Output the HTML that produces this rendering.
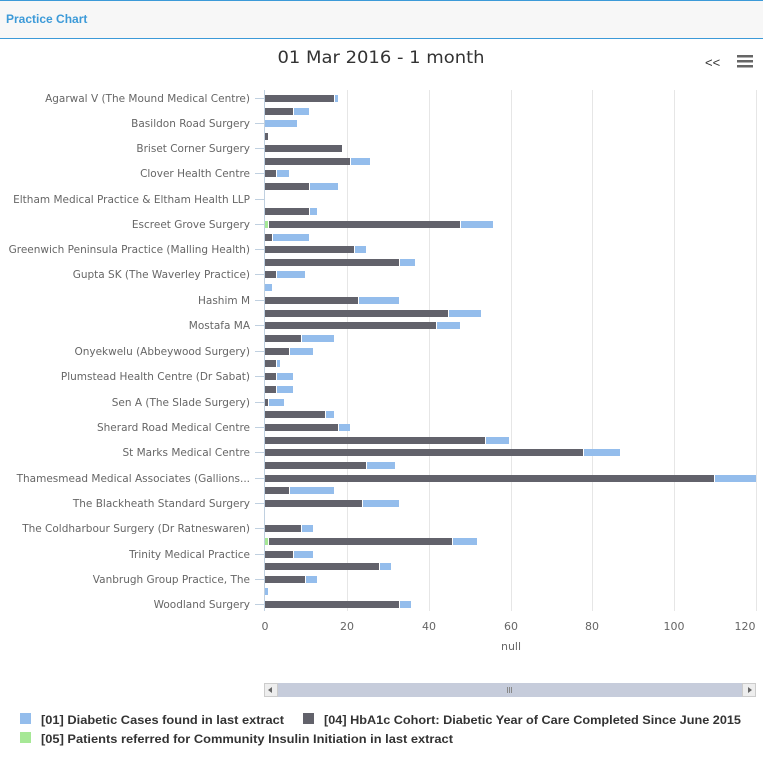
<!DOCTYPE html>
<html><head><meta charset="utf-8"><style>
body{margin:0;background:#fff;width:763px;height:771px;overflow:hidden}
svg{display:block;font-family:"Liberation Sans",sans-serif}
</style></head><body>
<svg width="763" height="771" xmlns="http://www.w3.org/2000/svg">
<rect x="0" y="0" width="763" height="38" fill="#f7f7f7"/>
<line x1="0" y1="0.5" x2="763" y2="0.5" stroke="#3c9ad8"/>
<line x1="0" y1="38.5" x2="763" y2="38.5" stroke="#3c9ad8"/>
<text x="6" y="23" font-size="12" font-weight="bold" fill="#3c9ad8">Practice Chart</text>
<text x="381" y="63" font-size="17" fill="#333" text-anchor="middle" font-family="DejaVu Sans, sans-serif" textLength="207" lengthAdjust="spacingAndGlyphs">01 Mar 2016 - 1 month</text>
<text x="705" y="67" font-size="13" fill="#333">&lt;&lt;</text>
<rect x="737" y="55" width="16" height="2.5" fill="#666"/><rect x="737" y="60" width="16" height="2.5" fill="#666"/><rect x="737" y="65" width="16" height="2.5" fill="#666"/>
<g stroke="#e6e6e6">
<line x1="347.5" y1="90" x2="347.5" y2="611"/><line x1="429.5" y1="90" x2="429.5" y2="611"/><line x1="511.5" y1="90" x2="511.5" y2="611"/><line x1="592.5" y1="90" x2="592.5" y2="611"/><line x1="674.5" y1="90" x2="674.5" y2="611"/><line x1="756.5" y1="90" x2="756.5" y2="611"/>
</g>
<line x1="264.5" y1="90" x2="264.5" y2="611" stroke="#c0d0e0"/>
<g stroke="#c0d0e0">
<line x1="255" x2="264" y1="98.5" y2="98.5"/><line x1="255" x2="264" y1="123.5" y2="123.5"/><line x1="255" x2="264" y1="148.5" y2="148.5"/><line x1="255" x2="264" y1="173.5" y2="173.5"/><line x1="255" x2="264" y1="199.5" y2="199.5"/><line x1="255" x2="264" y1="224.5" y2="224.5"/><line x1="255" x2="264" y1="249.5" y2="249.5"/><line x1="255" x2="264" y1="274.5" y2="274.5"/><line x1="255" x2="264" y1="300.5" y2="300.5"/><line x1="255" x2="264" y1="325.5" y2="325.5"/><line x1="255" x2="264" y1="351.5" y2="351.5"/><line x1="255" x2="264" y1="376.5" y2="376.5"/><line x1="255" x2="264" y1="402.5" y2="402.5"/><line x1="255" x2="264" y1="427.5" y2="427.5"/><line x1="255" x2="264" y1="452.5" y2="452.5"/><line x1="255" x2="264" y1="478.5" y2="478.5"/><line x1="255" x2="264" y1="503.5" y2="503.5"/><line x1="255" x2="264" y1="528.5" y2="528.5"/><line x1="255" x2="264" y1="554.5" y2="554.5"/><line x1="255" x2="264" y1="579.5" y2="579.5"/><line x1="255" x2="264" y1="604.5" y2="604.5"/>
</g>
<g font-size="10.5" fill="#666" text-anchor="end" font-family="DejaVu Sans, sans-serif">
<text x="250" y="102">Agarwal V (The Mound Medical Centre)</text>
<text x="250" y="127">Basildon Road Surgery</text>
<text x="250" y="152">Briset Corner Surgery</text>
<text x="250" y="177">Clover Health Centre</text>
<text x="250" y="203">Eltham Medical Practice &amp; Eltham Health LLP</text>
<text x="250" y="228">Escreet Grove Surgery</text>
<text x="250" y="253">Greenwich Peninsula Practice (Malling Health)</text>
<text x="250" y="278">Gupta SK (The Waverley Practice)</text>
<text x="250" y="304">Hashim M</text>
<text x="250" y="329">Mostafa MA</text>
<text x="250" y="355">Onyekwelu (Abbeywood Surgery)</text>
<text x="250" y="380">Plumstead Health Centre (Dr Sabat)</text>
<text x="250" y="406">Sen A (The Slade Surgery)</text>
<text x="250" y="431">Sherard Road Medical Centre</text>
<text x="250" y="456">St Marks Medical Centre</text>
<text x="250" y="482">Thamesmead Medical Associates (Gallions...</text>
<text x="250" y="507">The Blackheath Standard Surgery</text>
<text x="250" y="532">The Coldharbour Surgery (Dr Ratneswaren)</text>
<text x="250" y="558">Trinity Medical Practice</text>
<text x="250" y="583">Vanbrugh Group Practice, The</text>
<text x="250" y="608">Woodland Surgery</text>
</g>
<g>
<rect x="265" y="95" width="69" height="7" fill="#62626b"/><rect x="335" y="95" width="3" height="7" fill="#94bdec"/>
<rect x="265" y="108" width="28" height="7" fill="#62626b"/><rect x="294" y="108" width="15" height="7" fill="#94bdec"/>
<rect x="265" y="120" width="32" height="7" fill="#94bdec"/>
<rect x="265" y="133" width="3" height="7" fill="#62626b"/>
<rect x="265" y="145" width="77" height="7" fill="#62626b"/>
<rect x="265" y="158" width="85" height="7" fill="#62626b"/><rect x="351" y="158" width="19" height="7" fill="#94bdec"/>
<rect x="265" y="170" width="11" height="7" fill="#62626b"/><rect x="277" y="170" width="12" height="7" fill="#94bdec"/>
<rect x="265" y="183" width="44" height="7" fill="#62626b"/><rect x="310" y="183" width="28" height="7" fill="#94bdec"/>
<rect x="265" y="208" width="44" height="7" fill="#62626b"/><rect x="310" y="208" width="7" height="7" fill="#94bdec"/>
<rect x="265" y="221" width="3" height="7" fill="#a6e896"/><rect x="269" y="221" width="191" height="7" fill="#62626b"/><rect x="461" y="221" width="32" height="7" fill="#94bdec"/>
<rect x="265" y="234" width="7" height="7" fill="#62626b"/><rect x="273" y="234" width="36" height="7" fill="#94bdec"/>
<rect x="265" y="246" width="89" height="7" fill="#62626b"/><rect x="355" y="246" width="11" height="7" fill="#94bdec"/>
<rect x="265" y="259" width="134" height="7" fill="#62626b"/><rect x="400" y="259" width="15" height="7" fill="#94bdec"/>
<rect x="265" y="271" width="11" height="7" fill="#62626b"/><rect x="277" y="271" width="28" height="7" fill="#94bdec"/>
<rect x="265" y="284" width="7" height="7" fill="#94bdec"/>
<rect x="265" y="297" width="93" height="7" fill="#62626b"/><rect x="359" y="297" width="40" height="7" fill="#94bdec"/>
<rect x="265" y="310" width="183" height="7" fill="#62626b"/><rect x="449" y="310" width="32" height="7" fill="#94bdec"/>
<rect x="265" y="322" width="171" height="7" fill="#62626b"/><rect x="437" y="322" width="23" height="7" fill="#94bdec"/>
<rect x="265" y="335" width="36" height="7" fill="#62626b"/><rect x="302" y="335" width="32" height="7" fill="#94bdec"/>
<rect x="265" y="348" width="24" height="7" fill="#62626b"/><rect x="290" y="348" width="23" height="7" fill="#94bdec"/>
<rect x="265" y="360" width="11" height="7" fill="#62626b"/><rect x="277" y="360" width="3" height="7" fill="#94bdec"/>
<rect x="265" y="373" width="11" height="7" fill="#62626b"/><rect x="277" y="373" width="16" height="7" fill="#94bdec"/>
<rect x="265" y="386" width="11" height="7" fill="#62626b"/><rect x="277" y="386" width="16" height="7" fill="#94bdec"/>
<rect x="265" y="399" width="3" height="7" fill="#62626b"/><rect x="269" y="399" width="15" height="7" fill="#94bdec"/>
<rect x="265" y="411" width="60" height="7" fill="#62626b"/><rect x="326" y="411" width="8" height="7" fill="#94bdec"/>
<rect x="265" y="424" width="73" height="7" fill="#62626b"/><rect x="339" y="424" width="11" height="7" fill="#94bdec"/>
<rect x="265" y="437" width="220" height="7" fill="#62626b"/><rect x="486" y="437" width="23" height="7" fill="#94bdec"/>
<rect x="265" y="449" width="318" height="7" fill="#62626b"/><rect x="584" y="449" width="36" height="7" fill="#94bdec"/>
<rect x="265" y="462" width="101" height="7" fill="#62626b"/><rect x="367" y="462" width="28" height="7" fill="#94bdec"/>
<rect x="265" y="475" width="449" height="7" fill="#62626b"/><rect x="715" y="475" width="41" height="7" fill="#94bdec"/>
<rect x="265" y="487" width="24" height="7" fill="#62626b"/><rect x="290" y="487" width="44" height="7" fill="#94bdec"/>
<rect x="265" y="500" width="97" height="7" fill="#62626b"/><rect x="363" y="500" width="36" height="7" fill="#94bdec"/>
<rect x="265" y="525" width="36" height="7" fill="#62626b"/><rect x="302" y="525" width="11" height="7" fill="#94bdec"/>
<rect x="265" y="538" width="3" height="7" fill="#a6e896"/><rect x="269" y="538" width="183" height="7" fill="#62626b"/><rect x="453" y="538" width="24" height="7" fill="#94bdec"/>
<rect x="265" y="551" width="28" height="7" fill="#62626b"/><rect x="294" y="551" width="19" height="7" fill="#94bdec"/>
<rect x="265" y="563" width="114" height="7" fill="#62626b"/><rect x="380" y="563" width="11" height="7" fill="#94bdec"/>
<rect x="265" y="576" width="40" height="7" fill="#62626b"/><rect x="306" y="576" width="11" height="7" fill="#94bdec"/>
<rect x="265" y="588" width="3" height="7" fill="#94bdec"/>
<rect x="265" y="601" width="134" height="7" fill="#62626b"/><rect x="400" y="601" width="11" height="7" fill="#94bdec"/>
</g>
<g font-size="11" fill="#666" text-anchor="middle" font-family="DejaVu Sans, sans-serif">
<text x="265" y="630">0</text><text x="347" y="630">20</text><text x="429" y="630">40</text><text x="511" y="630">60</text><text x="592" y="630">80</text><text x="674" y="630">100</text><text x="745" y="630">120</text>
<text x="511" y="650">null</text>
</g>
<rect x="264" y="683" width="492" height="14" fill="#c6ccdb"/>
<rect x="264.5" y="683.5" width="13" height="13" fill="#eee" stroke="#ccc"/>
<rect x="742.5" y="683.5" width="13" height="13" fill="#eee" stroke="#ccc"/>
<path d="M272 687 L268 690 L272 693Z M748 687 L752 690 L748 693Z" fill="#666"/>
<path d="M507.5 687v6M509.5 687v6M511.5 687v6" stroke="#888"/>
<g font-size="12" font-weight="bold" fill="#333">
<rect x="20" y="713" width="11" height="11" fill="#94bdec"/>
<text x="41" y="724" textLength="243" lengthAdjust="spacingAndGlyphs">[01] Diabetic Cases found in last extract</text>
<rect x="303" y="713" width="11" height="11" fill="#62626b"/>
<text x="324" y="724" textLength="417" lengthAdjust="spacingAndGlyphs">[04] HbA1c Cohort: Diabetic Year of Care Completed Since June 2015</text>
<rect x="20" y="732" width="11" height="11" fill="#a6e896"/>
<text x="41" y="743" textLength="412" lengthAdjust="spacingAndGlyphs">[05] Patients referred for Community Insulin Initiation in last extract</text>
</g>
</svg>
</body></html>
